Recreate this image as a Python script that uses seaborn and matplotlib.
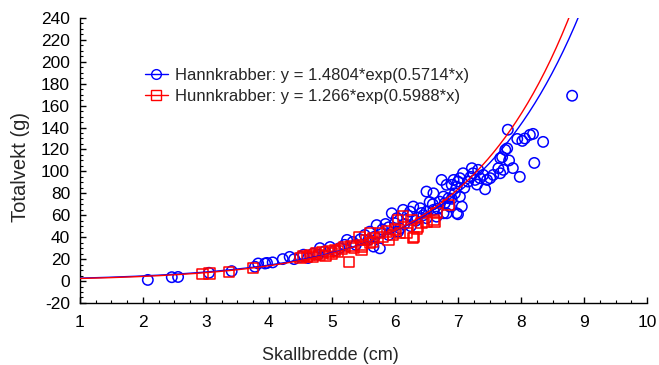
import numpy as np
import pandas as pd
import matplotlib
matplotlib.use("Agg")
import matplotlib.pyplot as plt
from matplotlib.ticker import AutoMinorLocator
from matplotlib.lines import Line2D
import seaborn as sns

# ---- data ----
male_x = [2.08, 2.46, 2.56, 3.05, 3.41, 3.78, 3.83, 3.94, 3.97, 4.06, 4.22, 4.33, 4.40, 4.50,
          4.55, 4.62, 4.70, 4.78, 4.81, 4.88, 4.97, 5.05, 5.12, 5.20, 5.24, 5.33, 5.38, 5.45,
          5.52, 5.58, 5.66, 5.68, 5.71, 5.76, 5.80, 5.85, 5.90, 5.95, 6.00, 6.03, 6.08, 6.13,
          6.20, 6.24, 6.29, 6.33, 6.40, 6.45, 6.50, 6.50, 6.50, 6.55, 6.61, 6.61, 6.66, 6.71,
          6.74, 6.77, 6.77, 6.79, 6.82, 6.82, 6.85, 6.87, 6.90, 6.93, 6.98, 6.98, 7.00, 7.00,
          7.03, 7.03, 7.06, 7.08, 7.16, 7.22, 7.24, 7.27, 7.32, 7.35, 7.40, 7.43, 7.46, 7.51,
          7.56, 7.64, 7.67, 7.67, 7.70, 7.72, 7.75, 7.78, 7.79, 7.81, 7.87, 7.94, 7.98, 8.02,
          8.06, 8.14, 8.19, 8.21, 8.35, 8.81,
          5.60, 5.90, 6.05, 6.15, 6.25, 6.35, 6.42, 6.60, 6.68, 6.90, 7.10, 7.20, 7.30, 6.95]
male_y = [1, 3.5, 3.7, 7.5, 9, 13, 16, 16, 16.5, 17, 20, 22, 20, 22,
          24, 21, 25, 24, 30, 27, 31, 28, 30, 33, 37.5, 35.6, 33, 38,
          42, 37.5, 31.4, 40.5, 51, 29.8, 47, 52, 49, 61.8, 52.7, 57.3, 48, 64.9,
          60, 63.3, 67.9, 55, 66.4, 60, 63.3, 57.3, 81.6, 72, 80, 64.9, 58.7, 72.4,
          92.2, 77, 61.8, 71, 87.7, 61.8, 75.5, 67.9, 87.7, 92.2, 86.1, 61.8, 90.7, 60.9,
          93.8, 77, 67.9, 98.3, 90.7, 102.9, 98.3, 92.2, 101.4, 93.8, 96.8, 83.7, 92.2, 93.8,
          96.8, 102.9, 98.3, 112, 113, 101.4, 119.6, 121, 138, 110, 103, 129.6, 95, 127.8,
          130, 133.3, 134.2, 107.7, 126.9, 169,
          45, 42, 45, 52, 50, 58, 62, 70, 66, 75, 85, 95, 88, 80]

female_x = [2.95, 3.06, 3.37, 3.75, 4.50, 4.55, 4.60, 4.65, 4.70, 4.75, 4.80, 4.85, 4.90,
            4.95, 5.00, 5.05, 5.10, 5.15, 5.20, 5.27, 5.30, 5.35, 5.44, 5.47, 5.47, 5.48,
            5.55, 5.60, 5.60, 5.65, 5.66, 5.76, 5.80, 5.87, 5.90, 5.97, 6.00, 6.05, 6.08,
            6.13, 6.18, 6.26, 6.29, 6.30, 6.35, 6.37, 6.42, 6.50, 6.61, 6.63, 6.66, 6.85]
female_y = [6.5, 7, 8, 12, 21, 23, 22, 24, 22, 25, 24, 26, 23,
            27, 25, 28, 27, 29, 31, 17.4, 32, 30, 40, 32.9, 28.4, 31,
            37.5, 44, 34.5, 35.6, 39, 43.6, 40, 45.1, 38, 42, 47, 55.7, 43.6,
            58.7, 43.6, 55.7, 39, 40, 48, 49.6, 52.7, 54.2, 55.7, 54, 61.8, 69.4]

male_a, male_b = 1.4804, 0.5714
female_a, female_b = 1.266, 0.5988
male_label = "Hannkrabber: y = 1.4804*exp(0.5714*x)"
female_label = "Hunnkrabber: y = 1.266*exp(0.5988*x)"

x_ticks = list(range(1, 11))
y_ticks = list(range(-20, 241, 20))

# ---- plot ----
sns.set_style("ticks")
plt.rcParams['font.family'] = ['Liberation Sans', 'DejaVu Sans']
plt.rcParams['axes.unicode_minus'] = False

fig = plt.figure(figsize=(6.59, 3.65), dpi=100)
ax = fig.add_axes([0.121, 0.170, 0.861, 0.781])

dm = pd.DataFrame({"x": male_x, "y": male_y})
df = pd.DataFrame({"x": female_x, "y": female_y})

sns.scatterplot(data=dm, x="x", y="y", ax=ax, marker="o", s=56,
                facecolors="none", edgecolor="#0000ff", linewidth=1.1, legend=False, zorder=3)
sns.scatterplot(data=df, x="x", y="y", ax=ax, marker="s", s=56,
                facecolors="none", edgecolor="#ff0000", linewidth=1.1, legend=False, zorder=4)

xs = np.linspace(1, 10, 400)
fit = pd.DataFrame({"x": xs,
                    "m": male_a * np.exp(male_b * xs),
                    "f": female_a * np.exp(female_b * xs)})
sns.lineplot(data=fit, x="x", y="m", ax=ax, color="#0000ff", linewidth=1.0, zorder=5)
sns.lineplot(data=fit, x="x", y="f", ax=ax, color="#ff0000", linewidth=1.0, zorder=6)

ax.set_xlim(1, 10)
ax.set_ylim(-20, 240)
ax.set_xticks(x_ticks)
ax.set_yticks(y_ticks)
ax.xaxis.set_minor_locator(AutoMinorLocator(4))
ax.yaxis.set_minor_locator(AutoMinorLocator(4))
ax.tick_params(which="both", direction="in", colors="black", labelsize=12.5)
ax.tick_params(axis="x", which="major", length=4, width=1, pad=9)
ax.tick_params(axis="y", which="major", length=4, width=1, pad=7)
ax.tick_params(which="minor", length=2, width=0.8)
sns.despine(ax=ax)
for s in ["left", "bottom"]:
    ax.spines[s].set_color("black")
    ax.spines[s].set_linewidth(1)

ax.set_xlabel("Skallbredde (cm)", fontsize=13)
ax.set_ylabel("Totalvekt (g)", fontsize=14.5)
ax.xaxis.set_label_coords(0.441, -0.155)
ax.yaxis.set_label_coords(-0.088, 0.477)

handles = [Line2D([0], [0], color="#0000ff", lw=1, marker="o", markersize=7,
                  markerfacecolor="none", markeredgecolor="#0000ff"),
           Line2D([0], [0], color="#ff0000", lw=1, marker="s", markersize=7,
                  markerfacecolor="none", markeredgecolor="#ff0000")]
ax.legend(handles, [male_label, female_label], loc="upper left",
          bbox_to_anchor=(0.10, 0.855), frameon=False, fontsize=12,
          handlelength=1.4, handletextpad=0.4, labelspacing=0.4, borderpad=0)

fig.savefig("out.png", dpi=100)
